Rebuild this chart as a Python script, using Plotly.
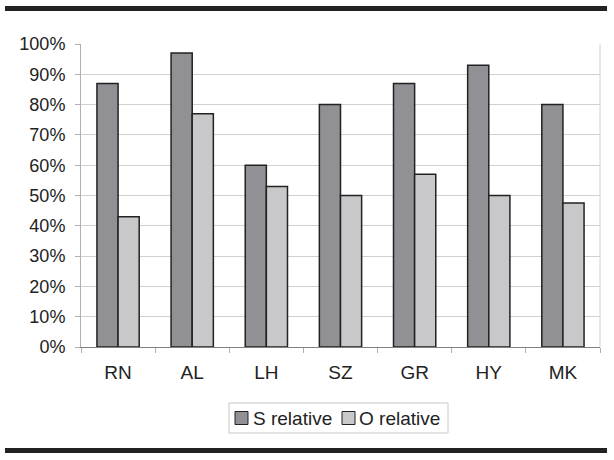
import plotly.graph_objects as go

categories = ["RN", "AL", "LH", "SZ", "GR", "HY", "MK"]
s_relative = [0.87, 0.97, 0.60, 0.80, 0.87, 0.93, 0.80]
o_relative = [0.43, 0.77, 0.53, 0.50, 0.57, 0.50, 0.475]
series_names = ["S relative", "O relative"]
series_colors = ["#909095", "#c8c8ca"]

W, H = 614, 460
L, R, T, B = 81, 600, 44, 347
pw, ph = R - L, B - T

def px(x):
    return (x - L) / pw

def py(y):
    return (B - y) / ph

fig = go.Figure()
for name, vals, col in zip(series_names, [s_relative, o_relative], series_colors):
    fig.add_trace(go.Bar(x=categories, y=vals, name=name, showlegend=False,
                         marker=dict(color=col, line=dict(color="#222222", width=1.5))))

shapes = [
    dict(type="line", xref="paper", yref="paper", x0=px(5), x1=px(607),
         y0=py(8.5), y1=py(8.5), line=dict(color="#222222", width=5)),
    dict(type="line", xref="paper", yref="paper", x0=px(5), x1=px(607),
         y0=py(450.5), y1=py(450.5), line=dict(color="#222222", width=5)),
    dict(type="line", xref="paper", yref="paper", x0=1, x1=1, y0=0, y1=1,
         line=dict(color="#d0d0d0", width=1)),
    # legend box
    dict(type="rect", xref="paper", yref="paper", x0=px(229), x1=px(448),
         y0=py(403), y1=py(433), line=dict(color="#c8c8c8", width=1), fillcolor="white"),
]
annotations = []
leg_sq_x = [235, 342]
leg_tx_x = [251, 357]
for name, col, sx, tx in zip(series_names, series_colors, leg_sq_x, leg_tx_x):
    shapes.append(dict(type="rect", xref="paper", yref="paper", x0=px(sx), x1=px(sx + 13),
                       y0=py(411.5), y1=py(424.5), line=dict(color="#222222", width=1),
                       fillcolor=col))
    annotations.append(dict(text=name, xref="paper", yref="paper", x=px(tx), y=py(418),
                            xanchor="left", yanchor="middle", showarrow=False,
                            font=dict(size=19, color="#222222")))

fig.update_layout(
    width=W, height=H,
    margin=dict(l=L, r=W - R, t=T, b=H - B),
    paper_bgcolor="white", plot_bgcolor="white",
    font=dict(family="Liberation Sans, Arial, sans-serif", size=18, color="#222222"),
    barmode="group", bargap=0.43, bargroupgap=0.0,
    showlegend=False,
    shapes=shapes, annotations=annotations,
)
fig.update_yaxes(range=[0, 1], tickvals=[i / 10 for i in range(11)], tickformat=".0%",
                 showgrid=True, gridcolor="#d0d0d0", gridwidth=1,
                 showline=True, linecolor="#b0b0b0", linewidth=1,
                 ticks="outside", ticklen=5, tickcolor="#b0b0b0", ticklabelstandoff=6,
                 tickfont=dict(size=18), zeroline=False)
fig.update_xaxes(showline=True, linecolor="#808080", linewidth=1,
                 ticks="outside", ticklen=5, tickcolor="#b0b0b0",
                 tickson="boundaries", showgrid=False, ticklabelstandoff=8,
                 tickfont=dict(size=19))

fig.write_html("out.html", config={"displayModeBar": False},
               post_script="document.body.style.margin='0px';")
